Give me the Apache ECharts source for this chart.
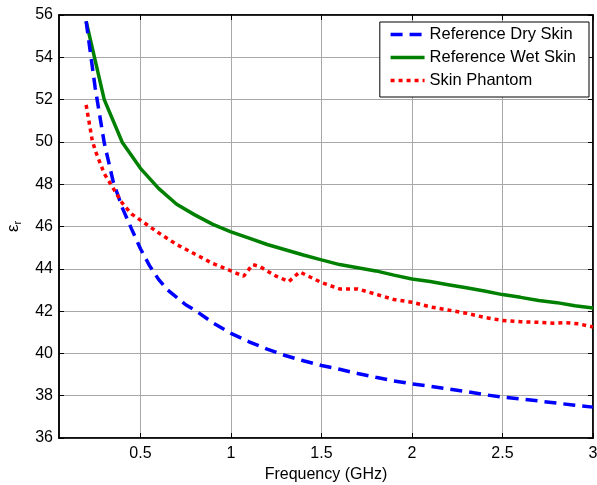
<!DOCTYPE html>
<html>
<head>
<meta charset="utf-8">
<script src="https://cdn.jsdelivr.net/npm/echarts@6/dist/echarts.min.js"></script>
<style>
  html, body { margin: 0; padding: 0; background: #fff; }
  #chart { width: 597px; height: 485px; }
</style>
</head>
<body>
<div id="chart"></div>
<script>
// tick positions (GHz)
const xTicks = [0.5, 1, 1.5, 2, 2.5, 3];

// Reference dry skin
const dryFreq = [0.2, 0.25, 0.3, 0.35, 0.4, 0.45, 0.5, 0.55, 0.6, 0.65, 0.7, 0.75, 0.8, 0.9, 1.0, 1.1, 1.2, 1.3, 1.4, 1.5,
  1.6, 1.7, 1.8, 1.9, 2.0, 2.1, 2.2, 2.3, 2.4, 2.5, 2.6, 2.7, 2.8, 2.9, 3.0];
const dryEps = [55.7, 52.55, 49.95, 48.1, 46.88, 45.9, 44.95, 44.15, 43.5, 43.0, 42.65, 42.3, 42.05, 41.45, 40.95, 40.55, 40.2, 39.9, 39.65, 39.43,
  39.25, 39.05, 38.87, 38.7, 38.56, 38.45, 38.32, 38.2, 38.05, 37.93, 37.85, 37.75, 37.65, 37.55, 37.46];

// Reference wet skin
const wetFreq = [0.2, 0.3, 0.4, 0.5, 0.6, 0.7, 0.8, 0.9, 1.0, 1.1, 1.2, 1.3, 1.4, 1.5,
  1.6, 1.7, 1.8, 1.9, 2.0, 2.1, 2.2, 2.3, 2.4, 2.5, 2.6, 2.7, 2.8, 2.9, 3.0];
const wetEps = [55.7, 52.0, 49.97, 48.75, 47.8, 47.05, 46.55, 46.1, 45.75, 45.45, 45.15, 44.9, 44.65, 44.42,
  44.2, 44.05, 43.9, 43.7, 43.52, 43.4, 43.25, 43.1, 42.95, 42.78, 42.65, 42.5, 42.4, 42.25, 42.15];

// Skin phantom (measured)
const phantomFreq = [0.2, 0.233, 0.25, 0.3, 0.35, 0.4, 0.45, 0.5, 0.6, 0.7, 0.8, 0.9, 1.0, 1.07, 1.12, 1.16, 1.25, 1.32,
  1.38, 1.5, 1.6, 1.7, 1.8, 1.9, 2.0, 2.1, 2.2, 2.3, 2.4, 2.5, 2.6, 2.7, 2.78, 2.85, 2.92, 3.0];
const phantomEps = [51.75, 50.1, 49.6, 48.5, 47.8, 47.1, 46.6, 46.3, 45.7, 45.15, 44.7, 44.25, 43.9, 43.65, 44.2, 44.1, 43.65, 43.4,
  43.85, 43.35, 43.05, 43.05, 42.8, 42.55, 42.42, 42.2, 42.05, 41.9, 41.7, 41.56, 41.5, 41.47, 41.43, 41.45, 41.4, 41.25];

const zip = (xs, ys) => xs.map((x, i) => [x, ys[i]]);

const FONT = 'Liberation Sans, Arial, sans-serif';
const chart = echarts.init(document.getElementById('chart'));

const tickInside = { show: true, inside: true, length: 5, lineStyle: { color: '#000', width: 1 } };

chart.setOption({
  animation: false,
  textStyle: { fontFamily: FONT },
  grid: {
    left: 59, right: 4, top: 15, bottom: 47,
    outerBoundsMode: 'none',
    show: true, borderColor: '#000', borderWidth: 1.5
  },
  legend: {
    orient: 'vertical',
    right: 8,
    top: 22,
    padding: [4, 13, 8, 9],
    itemGap: 6,
    itemWidth: 34,
    itemHeight: 14,
    backgroundColor: '#fff',
    borderColor: '#000',
    borderWidth: 1,
    itemStyle: { opacity: 0 },
    lineStyle: { width: 3.5 },
    textStyle: { fontSize: 16.5, color: '#000', fontFamily: FONT },
    data: ['Reference Dry Skin', 'Reference Wet Skin', 'Skin Phantom']
  },
  xAxis: [
    {
      type: 'value',
      min: 0.05,
      max: 3,
      name: 'Frequency (GHz)',
      nameLocation: 'middle',
      nameGap: 27,
      nameTextStyle: { fontSize: 16, color: '#000' },
      axisLine: { onZero: false, lineStyle: { color: '#000', width: 1.5 } },
      axisTick: Object.assign({ customValues: xTicks }, tickInside),
      axisLabel: { customValues: xTicks, fontSize: 16, color: '#000', margin: 8 },
      splitLine: { show: true, lineStyle: { color: '#a8a8a8', width: 1 } }
    },
    {
      type: 'value',
      position: 'top',
      min: 0.05,
      max: 3,
      axisLine: { show: true, onZero: false, lineStyle: { color: '#000', width: 1.5 } },
      axisTick: Object.assign({ customValues: xTicks }, tickInside),
      axisLabel: { show: false },
      splitLine: { show: false }
    }
  ],
  yAxis: [
    {
      type: 'value',
      min: 36,
      max: 56,
      interval: 2,
      name: '{e|ε}{r|r}',
      nameLocation: 'middle',
      nameGap: 36,
      nameTextStyle: {
        rich: {
          e: { fontSize: 17, color: '#000', fontFamily: FONT },
          r: { fontSize: 11, color: '#000', fontFamily: FONT, verticalAlign: 'bottom', padding: [9, 0, 0, 0] }
        }
      },
      axisLine: { onZero: false, lineStyle: { color: '#000', width: 1.5 } },
      axisTick: tickInside,
      axisLabel: { fontSize: 16, color: '#000', margin: 6 },
      splitLine: { show: true, lineStyle: { color: '#a8a8a8', width: 1 } }
    },
    {
      type: 'value',
      position: 'right',
      min: 36,
      max: 56,
      interval: 2,
      axisLine: { show: true, onZero: false, lineStyle: { color: '#000', width: 1.5 } },
      axisTick: tickInside,
      axisLabel: { show: false },
      splitLine: { show: false }
    }
  ],
  series: [
    {
      name: 'Reference Dry Skin',
      type: 'line',
      data: zip(dryFreq, dryEps),
      symbol: 'none',
      lineStyle: { color: '#0000ff', width: 3.5, type: [12, 7] },
      itemStyle: { color: '#0000ff' },
      z: 3
    },
    {
      name: 'Reference Wet Skin',
      type: 'line',
      data: zip(wetFreq, wetEps),
      symbol: 'none',
      lineStyle: { color: '#008000', width: 3.5, type: 'solid' },
      itemStyle: { color: '#008000' },
      z: 2
    },
    {
      name: 'Skin Phantom',
      type: 'line',
      data: zip(phantomFreq, phantomEps),
      symbol: 'none',
      lineStyle: { color: '#ff0000', width: 3.5, type: [4, 4] },
      itemStyle: { color: '#ff0000' },
      z: 4
    }
  ]
});
</script>
</body>
</html>
